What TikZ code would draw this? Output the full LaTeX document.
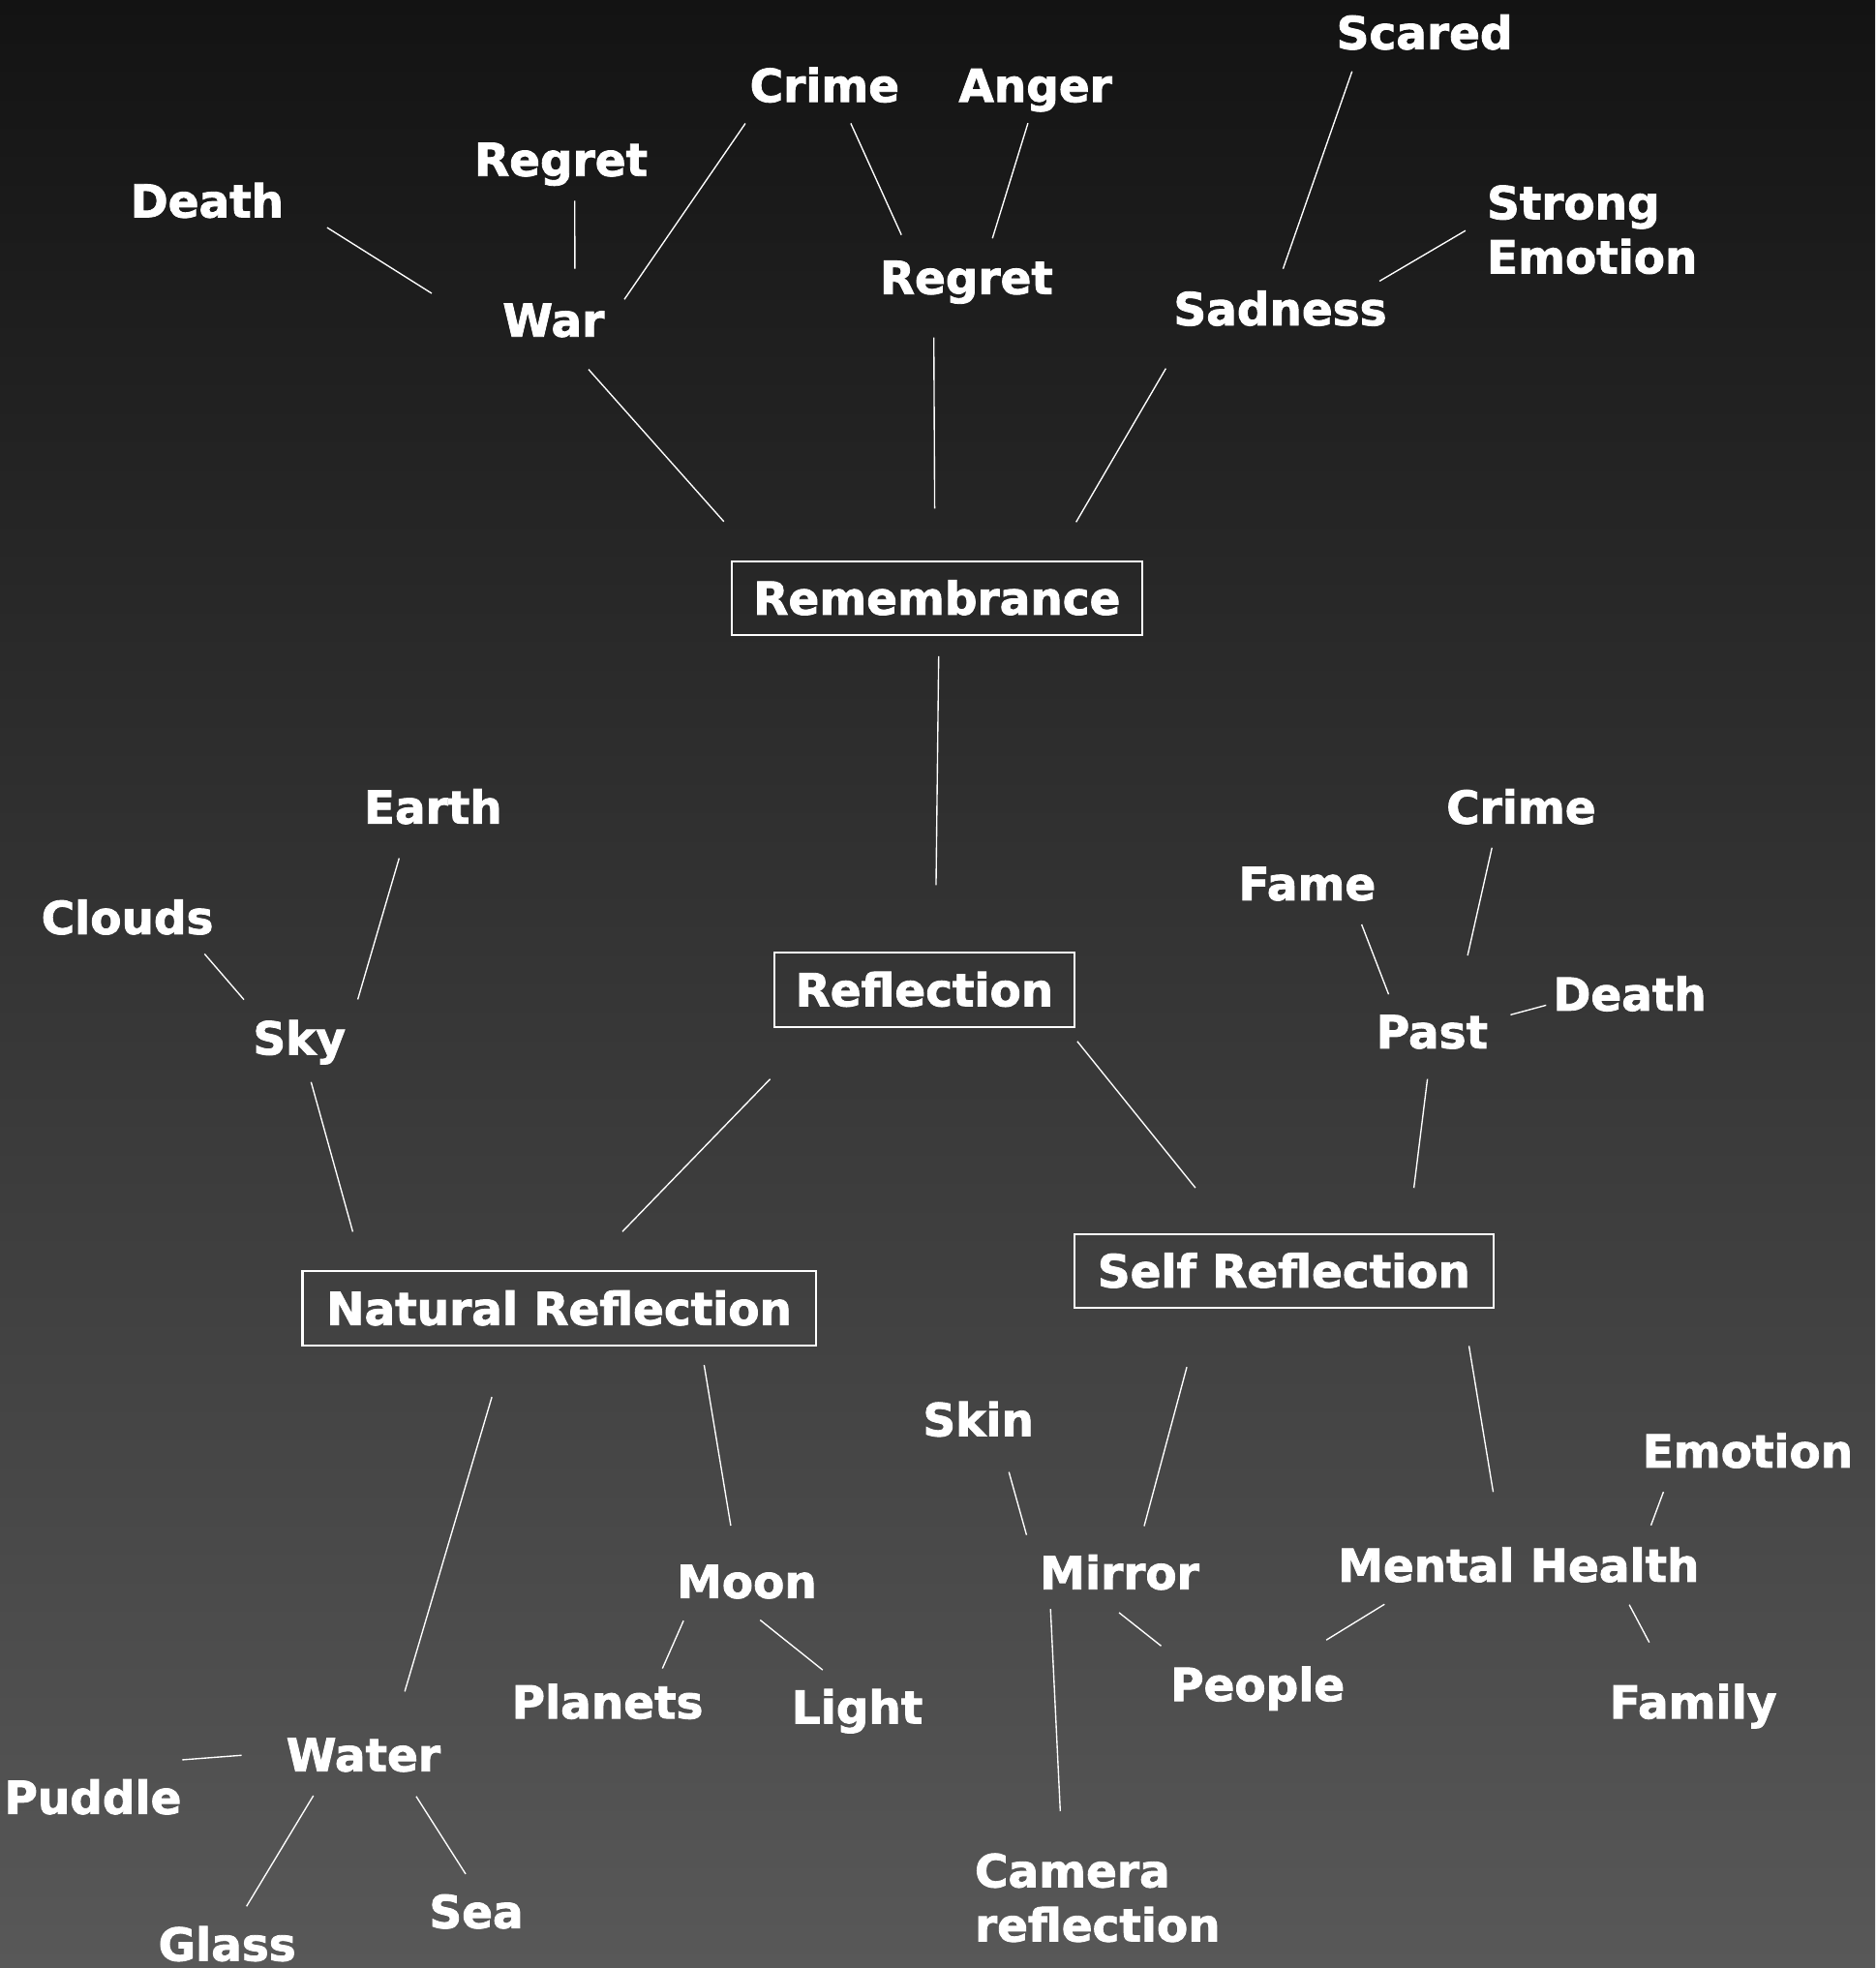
\documentclass[tikz,border=0pt]{standalone}
\usepackage{fontspec}
\setmainfont{DejaVu Sans}[BoldFeatures={FakeBold=1.8}]
\definecolor{bgtop}{RGB}{19,19,19}
\definecolor{bgbot}{RGB}{88,88,88}
\tikzset{
  word/.style={text=white,font=\fontsize{10.3}{12.3}\selectfont\bfseries,inner sep=0pt,text height=7.5pt,text depth=0pt},
  words/.style={text=white,font=\fontsize{10.3}{12.3}\selectfont\bfseries,inner sep=0pt,align=left,anchor=north west},
  topic/.style={word,draw=white,line width=0.45pt,minimum height=0.59cm},
  link/.style={white,line width=0.3pt},
  gap/.style 2 args={shorten <=#1cm,shorten >=#2cm}
}
\begin{document}
\begin{tikzpicture}
                \useasboundingbox (0,0) rectangle (14.94,-15.68);
                \shade[top color=bgtop,bottom color=bgbot] (0,0) rectangle (14.94,-15.68);
                \node[topic,minimum width=3.27cm] (rem) at (7.465,-4.765) {Remembrance};
                \node[topic,minimum width=2.39cm] (reflection) at (7.365,-7.885) {Reflection};
                \node[topic,minimum width=4.09cm] (natref) at (4.455,-10.425) {Natural Reflection};
                \node[topic,minimum width=3.34cm] (selfref) at (10.23,-10.125) {Self Reflection};
                \node[word] (death1) at (1.65,-1.60) {Death};
                \node[word] (regret1) at (4.47,-1.27) {Regret};
                \node[word] (crime1) at (6.57,-0.68) {Crime};
                \node[word] (anger) at (8.25,-0.68) {Anger};
                \node[word] (scared) at (11.35,-0.26) {Scared};
                \node[words] (strong) at (11.84,-1.47) {Strong\\Emotion};
                \node[word] (war) at (4.41,-2.55) {War};
                \node[word] (regret2) at (7.70,-2.21) {Regret};
                \node[word] (sadness) at (10.20,-2.46) {Sadness};
                \node[word] (earth) at (3.45,-6.43) {Earth};
                \node[word] (clouds) at (1.015,-7.31) {Clouds};
                \node[word] (sky) at (2.385,-8.27) {Sky};
                \node[word] (crime2) at (12.12,-6.43) {Crime};
                \node[word] (fame) at (10.415,-7.04) {Fame};
                \node[word] (death2) at (12.985,-7.92) {Death};
                \node[word] (past) at (11.41,-8.22) {Past};
                \node[word] (moon) at (5.95,-12.60) {Moon};
                \node[word] (planets) at (4.84,-13.56) {Planets};
                \node[word] (light) at (6.83,-13.60) {Light};
                \node[word] (water) at (2.895,-13.98) {Water};
                \node[word] (puddle) at (0.74,-14.32) {Puddle};
                \node[word] (glass) at (1.81,-15.49) {Glass};
                \node[word] (sea) at (3.795,-15.23) {Sea};
                \node[word] (skin) at (7.795,-11.31) {Skin};
                \node[word] (mirror) at (8.92,-12.53) {Mirror};
                \node[word] (people) at (10.02,-13.42) {People};
                \node[words] (camera) at (7.76,-14.76) {Camera\\reflection};
                \node[word] (mental) at (12.10,-12.47) {Mental Health};
                \node[word] (emotion) at (13.925,-11.56) {Emotion};
                \node[word] (family) at (13.49,-13.56) {Family};
                \draw[link,gap={0.40}{0.66}] (death1.east) -- (war.south west);
                \draw[link,gap={0.19}{0.27}] (regret1.-52) -- (war.39);
                \draw[link,gap={0.20}{0.27}] (crime1.195) -- (war.-8);
                \draw[link,gap={0.18}{0.22}] (crime1.-46) -- (regret2.162);
                \draw[link,gap={0.17}{0.18}] (anger.266) -- (regret2.42);
                \draw[link,gap={0.18}{0.19}] (scared.195) -- (sadness.106);
                \draw[link,gap={0.19}{0.16}] (strong.174) -- (sadness.12);
                \draw[link,gap={0.34}{0.41}] (war.-69) -- (rem.168);
                \draw[link,gap={0.34}{0.41}] (regret2.208) -- (rem.93);
                \draw[link,gap={0.39}{0.35}] (sadness.191) -- (rem.18);
                \draw[link,gap={0.16}{0.53}] (rem.-87) -- (reflection.74);
                \draw[link,gap={0.20}{0.22}] (clouds.-16) -- (sky.155);
                \draw[link,gap={0.28}{0.32}] (earth.216) -- (sky.east);
                \draw[link,gap={0.22}{0.32}] (sky.-76) -- (natref.169.8);
                \draw[link,gap={0.57}{0.43}] (reflection.200) -- (natref.56);
                \draw[link,gap={0.14}{0.46}] (reflection.-15) -- (selfref.144);
                \draw[link,gap={0.19}{0.48}] (crime2.216) -- (past.38);
                \draw[link,gap={0.20}{0.17}] (fame.-21) -- (past.154);
                \draw[link,gap={0.05}{0.18}] (death2.187) -- (past.11);
                \draw[link,gap={0.24}{0.36}] (past.267) -- (selfref.17);
                \draw[link,gap={0.42}{0.38}] (natref.216) -- (water.32);
                \draw[link,gap={0.15}{0.31}] (natref.-15) -- (moon.119);
                \draw[link,gap={0.19}{0.14}] (moon.198) -- (planets.20);
                \draw[link,gap={0.27}{0.25}] (moon.233) -- (light.120);
                \draw[link,gap={0.35}{0}] (water.178) -- ([yshift=1.6mm]puddle.north east);
                \draw[link,gap={0.22}{0.19}] (water.206) -- (glass.68);
                \draw[link,gap={0.23}{0.19}] (water.-25) -- (sea.83);
                \draw[link,gap={0.48}{0.24}] (selfref.205) -- (mirror.46);
                \draw[link,gap={0.30}{0.45}] (selfref.-12) -- (mental.133);
                \draw[link,gap={0.29}{0.37}] (skin.-40) -- (mirror.185);
                \draw[link,gap={0.15}{0.33}] (mirror.194) -- (camera.128);
                \draw[link,gap={0.29}{0.27}] (mirror.211) -- (people.166);
                \draw[link,gap={0.33}{0.41}] (mental.190) -- (people.35);
                \draw[link,gap={0.19}{0.20}] (mental.8) -- (emotion.193);
                \draw[link,gap={0.20}{0.38}] (mental.-10) -- (family.141);
            \end{tikzpicture}
\end{document}
